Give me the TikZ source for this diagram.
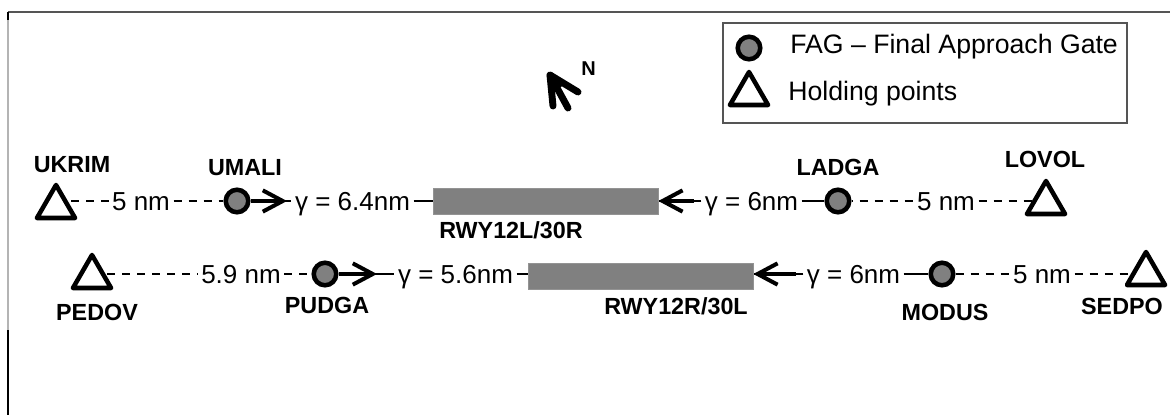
\documentclass[tikz,border=0pt]{standalone}
\usepackage{fontspec}
\setmainfont{Liberation Sans}
\usetikzlibrary{arrows.meta,calc,shapes.geometric,backgrounds}
\definecolor{rwgray}{HTML}{808080}
\definecolor{framegray}{HTML}{555555}
\definecolor{lightframe}{HTML}{B4B4B4}
\begin{document}
\begin{tikzpicture}[x=0.75pt,y=-0.75pt,
  lbl/.style={font=\bfseries\fontsize{17.5pt}{20pt}\selectfont, inner sep=0pt, anchor=base},
  val/.style={font=\fontsize{19.5pt}{22pt}\selectfont, text height=14pt, text depth=0pt, inner xsep=2.5pt, inner ysep=0pt},
  legtext/.style={font=\fontsize{20pt}{24pt}\selectfont, inner sep=0pt, anchor=base west},
  fag/.style={circle, draw=black, fill=rwgray, line width=3.4pt, minimum size=16.9pt, inner sep=0pt},
  holdpt/.style={regular polygon, regular polygon sides=3, draw=black, fill=white, line width=3.4pt, line join=round, minimum size=33pt, inner sep=0pt},
  rwy/.style={fill=rwgray, draw=rwgray!85!white, line width=0.5pt, minimum width=168.75pt, minimum height=19.5pt, inner sep=0pt},
  dashline/.style={line width=1.5pt, dash pattern=on 6pt off 5.25pt},
  solidline/.style={line width=1.6pt},
  shaft/.style={line width=3pt, -{Straight Barb[length=15pt, width=16pt]}},
  compass/.style={line width=5.2pt, line cap=round, line join=round}
]
\useasboundingbox (0,0) rectangle (1170,415);

% frame
\draw[framegray, line width=1.5pt] (8,12) -- (1170,12);
\draw[lightframe, line width=1.2pt] (8,12) -- (8,415);
\draw[black, line width=1.2pt] (8,12) -- (8,20);
\draw[black, line width=1.2pt] (8,330) -- (8,415);

% legend
\node[draw=framegray, line width=0.9pt, minimum width=303pt, minimum height=75pt, inner sep=0pt] (legend) at (925,73) {};
\node[fag] (legfag) at (749,48) {};
\node[holdpt] (leghold) at (749,94) {};
\node[legtext] (legfagtxt) at (790,53) {FAG – Final Approach Gate};
\node[legtext] (legholdtxt) at (788,100) {Holding points};

% north arrow
\coordinate (ntip) at (550,75);
\coordinate (nb1) at (553,106);
\coordinate (nb2) at (578,92);
\coordinate (nsh) at (568,108);
\fill (ntip) -- ($(ntip)!0.55!(nb1)$) -- ($(ntip)!0.55!(nb2)$) -- cycle;
\draw[compass] (nb1) -- (ntip) -- (nb2);
\draw[compass] (ntip) -- (nsh);
\node[font=\bfseries\fontsize{15pt}{17pt}\selectfont, inner sep=0pt, anchor=base west] (nlabel) at (581,75) {N};

% runways
\node[rwy] (rw1) at (545.5,201) {};
\node[rwy] (rw2) at (640.5,276) {};
\node[lbl] (lrw1) at (511,238) {RWY12L/30R};
\node[lbl] (lrw2) at (676,314) {RWY12R/30L};

% FAG points
\node[fag] (umali) at (237,201) {};
\node[fag] (ladga) at (838,201) {};
\node[fag] (pudga) at (325,274) {};
\node[fag] (modus) at (942,274) {};

% holding points
\node[holdpt] (ukrim) at (56,207) {};
\node[holdpt] (lovol) at (1046,203) {};
\node[holdpt] (pedov) at (92,277) {};
\node[holdpt] (sedpo) at (1146,274) {};

% labels
\node[lbl] (lukrim) at (72,172) {UKRIM};
\node[lbl] (lumali) at (245,175) {UMALI};
\node[lbl] (lladga) at (838,175) {LADGA};
\node[lbl] (llovol) at (1045,167) {LOVOL};
\node[lbl] (lpedov) at (97,320) {PEDOV};
\node[lbl] (lpudga) at (327,313) {PUDGA};
\node[lbl] (lmodus) at (945,320) {MODUS};
\node[lbl] (lsedpo) at (1122,314) {SEDPO};

% values
\node[val] (v1a) at (141,201) {5 nm};
\node[val] (v1b) at (352.5,201) {γ = 6.4nm};
\node[val] (v1c) at (751.5,201) {γ = 6nm};
\node[val] (v1d) at (946,201) {5 nm};
\node[val] (v2a) at (241,274) {5.9 nm};
\node[val] (v2b) at (455.5,274) {γ = 5.6nm};
\node[val] (v2c) at (853.5,274) {γ = 6nm};
\node[val] (v2d) at (1042,274) {5 nm};

\coordinate (a1) at (287,201);
\coordinate (s1) at (694,201);
\coordinate (a2) at (377,274);
\coordinate (s2) at (796,274);

\begin{scope}[on background layer]
% row 1
\draw[dashline] (ukrim.center |- v1a.west) -- (v1a.west);
\draw[dashline] (v1a.east) -- (umali.west);
\draw[solidline] (umali.east) -- (v1b.west);
\draw[shaft] (umali.east) -- (a1);
\draw[solidline] (v1b.east) -- (rw1.west);
\draw[solidline] (v1c.west) -- (rw1.east);
\draw[shaft] (s1) -- (rw1.east);
\draw[solidline] (v1c.east) -- (ladga.west);
\draw[dashline, dash phase=5.25pt] (ladga.east) -- (v1d.west);
\draw[dashline] (v1d.east) -- (lovol.center |- v1d.east);
% row 2
\draw[dashline] (pedov.center |- v2a.west) -- (v2a.west);
\draw[dashline] (v2a.east) -- (pudga.west);
\draw[solidline] (pudga.east) -- (v2b.west);
\draw[shaft] (pudga.east) -- (a2);
\draw[solidline] (v2b.east) -- (v2b.east -| rw2.west);
\draw[solidline] (v2c.west) -- (v2c.west -| rw2.east);
\draw[shaft] (s2) -- (v2c.west -| rw2.east);
\draw[solidline] (v2c.east) -- (modus.west);
\draw[dashline] (modus.east) -- (v2d.west);
\draw[dashline] (v2d.east) -- (sedpo.center |- v2d.east);
\end{scope}
\end{tikzpicture}
\end{document}
